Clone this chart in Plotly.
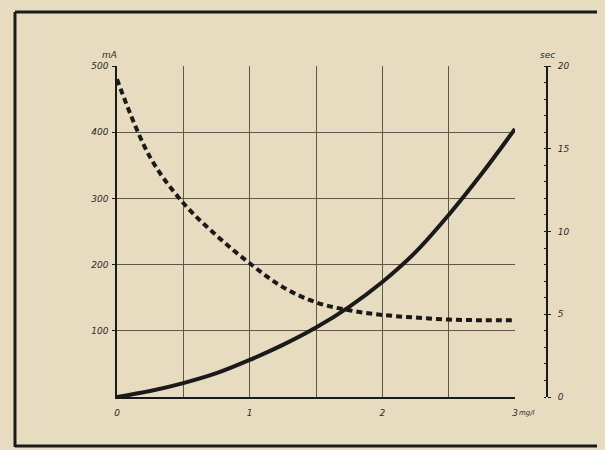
import plotly.graph_objects as go

# x: concentration (mg/l)
x_vals = [0, 0.25, 0.5, 0.75, 1.0, 1.25, 1.5, 1.75, 2.0, 2.25, 2.5, 2.75, 3.0]
# dashed curve, left axis (mA)
current_ma = [480, 362, 293, 244, 202, 166, 143, 131, 124, 120, 117, 116, 116]
# solid curve, right axis (sec)
time_sec = [0, 0.36, 0.84, 1.44, 2.24, 3.15, 4.2, 5.45, 6.95, 8.75, 11.0, 13.5, 16.2]

left_ticks = [100, 200, 300, 400, 500]
right_ticks = [0, 5, 10, 15, 20]

ink = "#1a1a1a"
grid = "#5a574e"
paper = "#e7dcbf"
tfont = dict(family="DejaVu Sans", size=9, color="#2a2a2a", style="italic")

# page offset of the figure inside the browser window
OX, OY = 8, 8
L, T = 117 - OX, 66 - OY
PH = 331
R = 50
PW = 605 - L - R


def px(x):
    return (x - OX - L) / PW


def py(y):
    return (T + PH - (y - OY)) / PH


fig = go.Figure()
fig.add_trace(go.Scatter(x=x_vals, y=current_ma, mode="lines",
                         line=dict(color=ink, width=4, dash="6px,4px", shape="spline"),
                         yaxis="y", showlegend=False))
fig.add_trace(go.Scatter(x=x_vals, y=time_sec, mode="lines",
                         line=dict(color=ink, width=4, shape="spline"),
                         yaxis="y2", showlegend=False))

fig.update_layout(
    width=605, height=450,
    margin=dict(l=L, r=R, t=T, b=450 - T - PH),
    paper_bgcolor=paper, plot_bgcolor=paper,
    xaxis=dict(domain=[0, px(515)], range=[0, 3], tickvals=[0, 0.5, 1, 1.5, 2, 2.5, 3],
               ticktext=["0", "", "1", "", "2", "", "3"], ticklabelstandoff=6,
               showgrid=True, gridcolor=grid, gridwidth=1, zeroline=False,
               showline=True, linecolor=ink, linewidth=1.5, ticks="", tickfont=tfont),
    yaxis=dict(range=[0, 500], tickvals=left_ticks, showgrid=True, gridcolor=grid, gridwidth=1,
               zeroline=False, showline=True, linecolor=ink, linewidth=1.5, ticks="outside",
               ticklen=3, tickcolor=ink, tickfont=tfont, ticklabelstandoff=2),
    yaxis2=dict(range=[0, 20], tickvals=right_ticks, overlaying="y", side="right", anchor="free",
                position=px(547), showgrid=False, zeroline=False, showline=True,
                linecolor=ink, linewidth=2, ticks="outside", ticklen=3, tickcolor=ink,
                minor=dict(dtick=1, ticks="inside", ticklen=2, tickcolor=ink),
                tickfont=tfont, ticklabelstandoff=5),
    annotations=[
        dict(text="mA", xref="paper", yref="paper", x=px(100), y=py(48),
             showarrow=False, font=tfont),
        dict(text="sec", xref="paper", yref="paper", x=px(557), y=py(48),
             showarrow=False, font=tfont),
        dict(text="mg/l", xref="paper", yref="paper", x=px(537), y=py(413),
             yanchor="middle", showarrow=False,
             font=dict(family="DejaVu Sans", size=7, color="#2a2a2a", style="italic")),
    ],
    shapes=[
        dict(type="line", xref="paper", yref="paper", x0=px(15), x1=px(15),
             y0=py(12), y1=py(447), line=dict(color=ink, width=3)),
        dict(type="line", xref="paper", yref="paper", x0=px(15), x1=px(612),
             y0=py(12), y1=py(12), line=dict(color=ink, width=3)),
        dict(type="line", xref="paper", yref="paper", x0=px(15), x1=px(612),
             y0=py(446), y1=py(446), line=dict(color=ink, width=3)),
    ],
)

fig.write_html("out.html", post_script="document.body.style.background='" + paper + "';")
